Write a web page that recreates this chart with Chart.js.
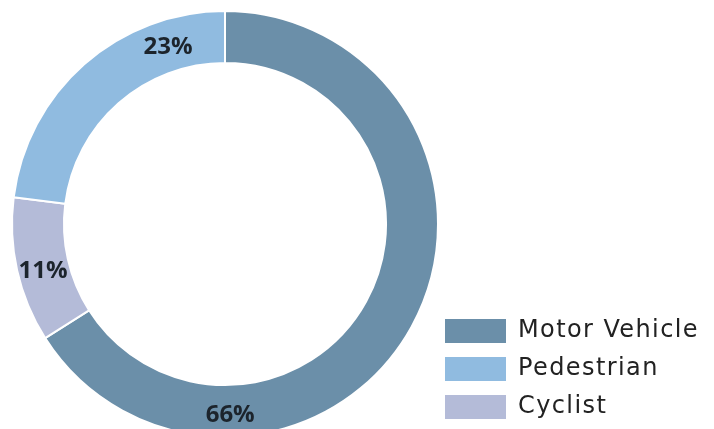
<!DOCTYPE html>
<html>
<head>
<meta charset="utf-8">
<script src="https://cdn.jsdelivr.net/npm/chart.js@4.4.1/dist/chart.umd.min.js"></script>
<style>
  html, body { margin: 0; padding: 0; background: #ffffff; overflow: hidden; width: 714px; height: 429px; }
  #wrap { width: 714px; height: 429px; overflow: hidden; }
  canvas { display: block; }
</style>
</head>
<body>
<div id="wrap"><canvas id="c" width="714" height="433"></canvas></div>
<script>
// ---- data (clockwise from 12 o'clock) ----
const categories = ['Motor Vehicle', 'Cyclist', 'Pedestrian'];
const shares = [66, 11, 23];
const legendOrder = ['Motor Vehicle', 'Pedestrian', 'Cyclist'];
const sliceColors = ['#6b8fa9', '#b4bbd8', '#90bbe0'];

// ---- styling ----
const LEGEND_FONT = { family: '"DejaVu Sans", sans-serif', size: 24, weight: 'normal', lineHeight: '38px' };
const LEGEND_SPACING = '1.4px';
const LEGEND_BOX_W = 61;
const LEGEND_LEFT = 445;
const PAD_LEFT = 5;

// measure longest legend label to size layout padding so the legend starts at LEGEND_LEFT
const mctx = document.createElement('canvas').getContext('2d');
mctx.font = 'normal 24px "DejaVu Sans", sans-serif';
if ('letterSpacing' in mctx) mctx.letterSpacing = LEGEND_SPACING;
const longest = Math.max(...legendOrder.map(t => mctx.measureText(t).width));
const legendWidth = LEGEND_BOX_W + LEGEND_FONT.size / 2 + longest + 10;
const PAD_RIGHT = Math.max(0, 714 - LEGEND_LEFT - legendWidth);

const spacingPlugin = {
  id: 'legendSpacing',
  beforeUpdate(chart) { if ('letterSpacing' in chart.ctx) chart.ctx.letterSpacing = LEGEND_SPACING; },
  beforeDraw(chart) { if ('letterSpacing' in chart.ctx) chart.ctx.letterSpacing = LEGEND_SPACING; }
};

const labelPlugin = {
  id: 'sliceLabels',
  afterDatasetsDraw(chart, args, opts) {
    const ctx = chart.ctx;
    const meta = chart.getDatasetMeta(0);
    const ds = chart.data.datasets[0];
    ctx.save();
    if ('letterSpacing' in ctx) ctx.letterSpacing = '0px';
    ctx.font = opts.font;
    ctx.fillStyle = opts.color;
    ctx.textAlign = 'center';
    ctx.textBaseline = 'middle';
    meta.data.forEach((arc, i) => {
      const p = arc.getProps(['x', 'y', 'startAngle', 'endAngle', 'innerRadius', 'outerRadius'], true);
      const f = opts.along[i];
      const a = p.startAngle + f * (p.endAngle - p.startAngle);
      const r = (p.innerRadius + p.outerRadius) / 2 + (opts.radial[i] || 0);
      ctx.fillText(ds.data[i] + '%', p.x + r * Math.cos(a), p.y + r * Math.sin(a));
    });
    ctx.restore();
  }
};

new Chart(document.getElementById('c'), {
  type: 'doughnut',
  data: {
    labels: categories,
    datasets: [{
      data: shares,
      backgroundColor: sliceColors,
      borderColor: '#ffffff',
      borderWidth: 2,
      radius: 213,
      clip: false
    }]
  },
  options: {
    responsive: false,
    animation: false,
    cutout: '75.6%',
    layout: { padding: { left: PAD_LEFT, right: PAD_RIGHT, top: 15, bottom: 0 } },
    plugins: {
      tooltip: { enabled: false },
      legend: {
        position: 'right',
        align: 'end',
        labels: {
          boxWidth: LEGEND_BOX_W,
          boxHeight: 24,
          padding: 0,
          color: '#222222',
          font: LEGEND_FONT,
          generateLabels(chart) {
            const base = Chart.overrides.doughnut.plugins.legend.labels.generateLabels(chart);
            base.sort((a, b) => legendOrder.indexOf(a.text) - legendOrder.indexOf(b.text));
            return base.map(it => Object.assign({}, it, { text: [it.text], lineWidth: 0, strokeStyle: 'rgba(0,0,0,0)' }));
          }
        }
      },
      sliceLabels: {
        font: '700 24px "Open Sans", sans-serif',
        color: '#1c242c',
        along: [0.751, 0.45, 0.785],
        radial: [4, 1, -1]
      }
    }
  },
  plugins: [spacingPlugin, labelPlugin]
});
</script>
</body>
</html>
